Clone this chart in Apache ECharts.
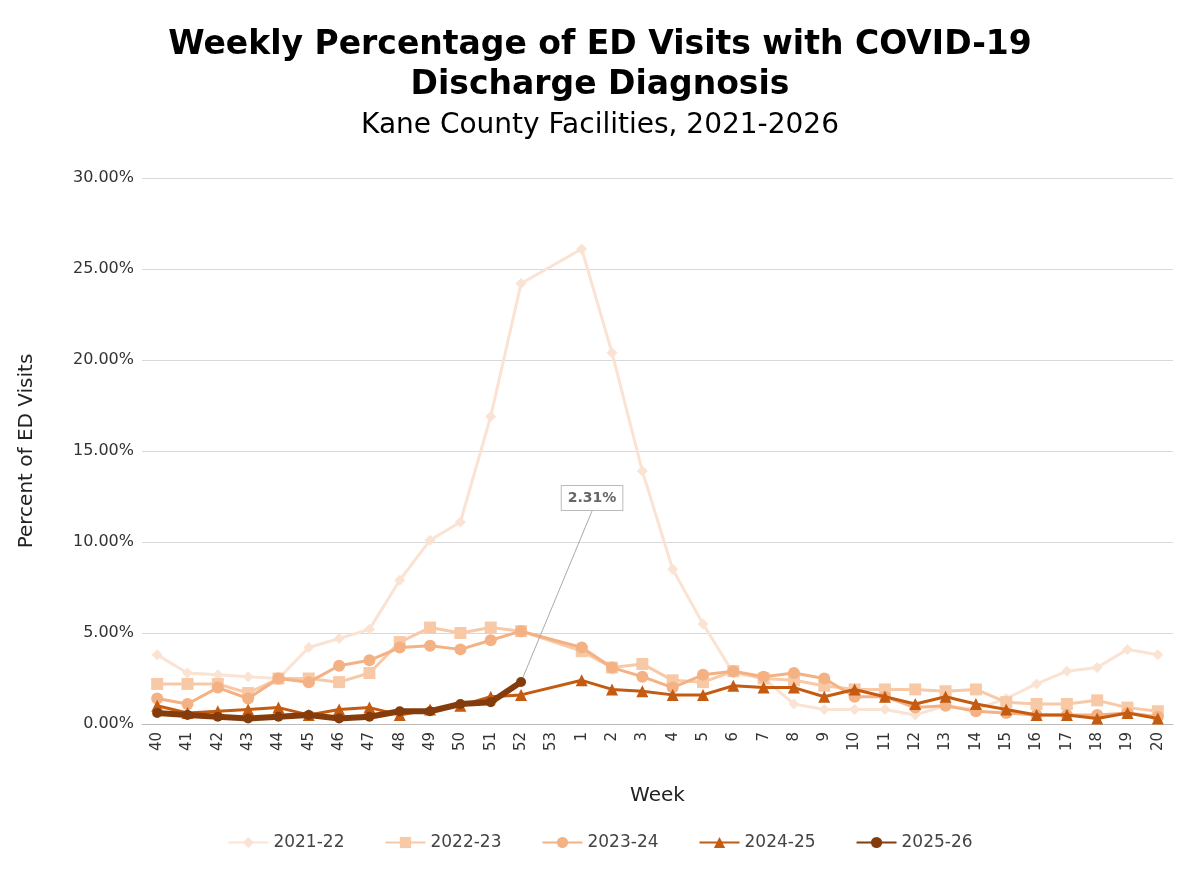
<!DOCTYPE html>
<html><head><meta charset="utf-8">
<script src="https://cdn.jsdelivr.net/npm/echarts@6/dist/echarts.min.js"></script>
<style>html,body{margin:0;background:#fff}#c{width:1200px;height:872px}</style>
</head><body><div id="c"></div>
<script>
const weeks=['40','41','42','43','44','45','46','47','48','49','50','51','52','53','1','2','3','4','5','6','7','8','9','10','11','12','13','14','15','16','17','18','19','20'];
const s2122=[3.8,2.8,2.7,2.6,2.5,4.2,4.7,5.2,7.9,10.1,11.1,16.9,24.2,null,26.1,20.4,13.9,8.5,5.5,2.8,2.5,1.1,0.8,0.8,0.8,0.5,1.0,0.8,1.4,2.2,2.9,3.1,4.1,3.8];
const s2223=[2.2,2.2,2.2,1.7,2.5,2.5,2.3,2.8,4.5,5.3,5.0,5.3,5.1,null,4.0,3.1,3.3,2.4,2.3,2.9,2.5,2.4,2.1,1.9,1.9,1.9,1.8,1.9,1.2,1.1,1.1,1.3,0.9,0.7];
const s2324=[1.4,1.1,2.0,1.4,2.5,2.3,3.2,3.5,4.2,4.3,4.1,4.6,5.1,null,4.2,3.1,2.6,2.0,2.7,2.9,2.6,2.8,2.5,1.5,1.5,0.9,1.0,0.7,0.6,0.5,0.5,0.5,0.6,0.4];
const s2425=[1.0,0.6,0.7,0.8,0.9,0.5,0.8,0.9,0.5,0.8,1.0,1.5,1.6,null,2.4,1.9,1.8,1.6,1.6,2.1,2.0,2.0,1.5,1.9,1.5,1.1,1.5,1.1,0.8,0.5,0.5,0.3,0.6,0.3];
const s2526=[0.6,0.5,0.4,0.3,0.4,0.5,0.3,0.4,0.7,0.7,1.1,1.2,2.31];
const names=['2021-22','2022-23','2023-24','2024-25','2025-26'];
const colors=['#fbe3d4','#f8c9a6','#f4b183','#c55a11','#843c0c'];
const symbols=['diamond','rect','circle','triangle','circle'];
const data=[s2122,s2223,s2324,s2425,s2526];
const F='DejaVu Sans';
const lastLabel={show:true,formatter:p=>p.value.toFixed(2)+'%',
  fontFamily:F,fontSize:14,fontWeight:'bold',color:'#666',backgroundColor:'#fff',
  borderColor:'#bbb',borderWidth:1,padding:[5,6]};
const series=data.map((d,i)=>({
  name:names[i],type:'line',connectNulls:true,color:colors[i],
  data:i==4?d.map((v,k)=>k===d.length-1?{value:v,label:lastLabel}:v):d,
  symbol:symbols[i],symbolSize:i==4?10:(i==0?11:12),
  lineStyle:{width:i==4?6:3},z:i+2,
  label:{show:false},
  labelLayout:i==4?{dx:71,dy:-162}:undefined,
  labelLine:i==4?{show:true,lineStyle:{color:'#aaa',width:1}}:undefined
}));
const ch=echarts.init(document.getElementById('c'));
ch.setOption({
  animation:false,
  title:[{text:'Weekly Percentage of ED Visits with COVID-19\nDischarge Diagnosis',left:'center',top:20,
    textStyle:{fontFamily:F,fontSize:33,fontWeight:'bold',color:'#000',lineHeight:40}},
    {text:'Kane County Facilities, 2021-2026',left:'center',top:107,textStyle:{fontFamily:F,fontSize:28,fontWeight:'normal',color:'#000'}}],
  grid:{left:142,right:27,top:178,bottom:148},
  legend:{bottom:16,itemGap:40,itemWidth:40,textStyle:{fontFamily:F,fontSize:17,color:'#444'},data:names},
  xAxis:{type:'category',data:weeks,name:'Week',nameLocation:'middle',nameGap:62,
    nameTextStyle:{fontFamily:F,fontSize:20,color:'#222'},
    axisLine:{lineStyle:{color:'#bbb'}},axisTick:{show:false},
    axisLabel:{rotate:90,fontFamily:F,fontSize:15,color:'#333',interval:0}},
  yAxis:{type:'value',min:0,max:30,interval:5,name:'Percent of ED Visits',nameLocation:'middle',nameGap:105,
    nameTextStyle:{fontFamily:F,fontSize:20,color:'#222'},
    axisLabel:{formatter:v=>v.toFixed(2)+'%',fontFamily:F,fontSize:16,color:'#333'},
    splitLine:{lineStyle:{color:'#d9d9d9'}}},
  series
});
</script></body></html>
